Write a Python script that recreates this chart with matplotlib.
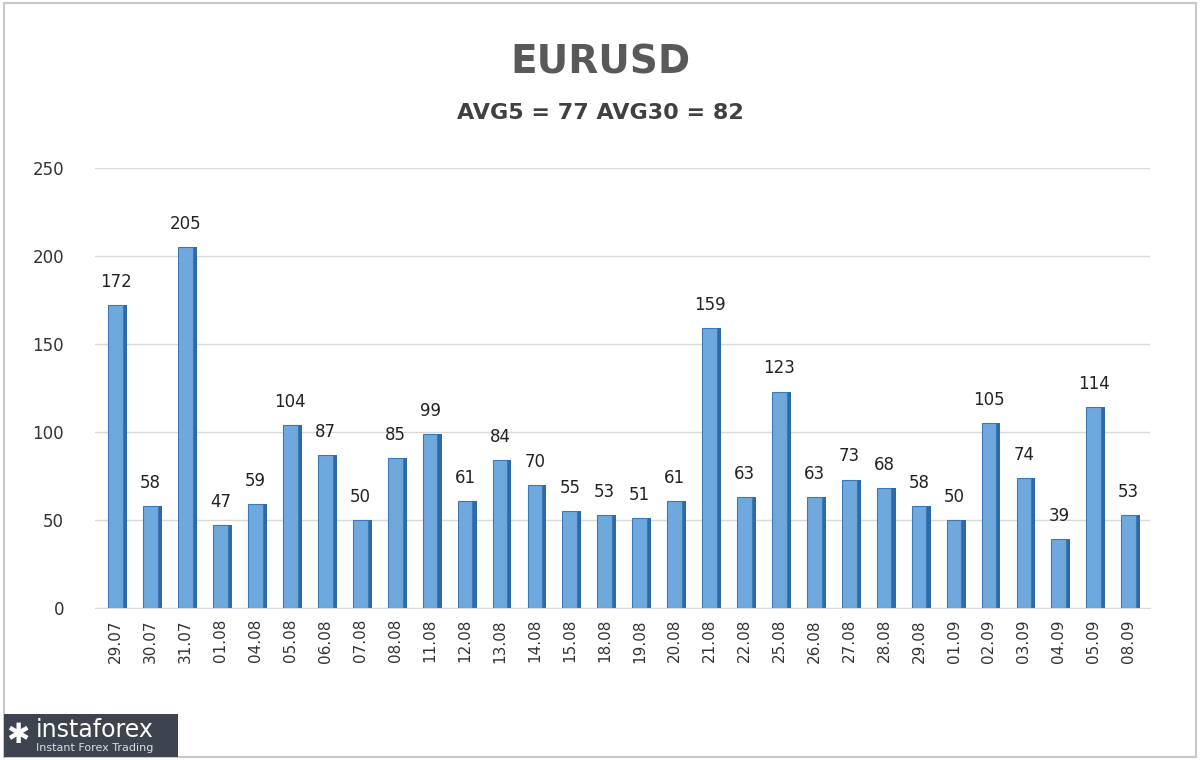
import matplotlib
matplotlib.use("Agg")
import matplotlib.pyplot as plt
from matplotlib.patches import Rectangle, FancyBboxPatch

dates = ["29.07", "30.07", "31.07", "01.08", "04.08", "05.08", "06.08", "07.08",
         "08.08", "11.08", "12.08", "13.08", "14.08", "15.08", "18.08", "19.08",
         "20.08", "21.08", "22.08", "25.08", "26.08", "27.08", "28.08", "29.08",
         "01.09", "02.09", "03.09", "04.09", "05.09", "08.09"]
values = [172, 58, 205, 47, 59, 104, 87, 50, 85, 99, 61, 84, 70, 55, 53, 51,
          61, 159, 63, 123, 63, 73, 68, 58, 50, 105, 74, 39, 114, 53]
yticks = [0, 50, 100, 150, 200, 250]

fig = plt.figure(figsize=(12, 7.6), dpi=100, facecolor="white")
fig.patches.append(Rectangle((0.003, 0.004), 0.994, 0.992, transform=fig.transFigure,
                             fill=False, edgecolor="#c8c8c8", lw=1.5))

ax = fig.add_axes([0.079, 0.2, 0.879, 0.579])
x = range(len(values))
# side shade for a 3D feel
ax.bar([i + 0.12 for i in x], values, width=0.42, color="#2f6aa8", zorder=2)
ax.bar(x, values, width=0.42, color="#6fa8dc", edgecolor="#3b78b8", lw=0.8, zorder=3)
for i, v in zip(x, values):
    ax.text(i, v + 8, str(v), ha="center", va="bottom", fontsize=12, color="#222222")

ax.set_ylim(0, 250)
ax.set_xlim(-0.6, len(values) - 0.4)
ax.set_yticks(yticks)
ax.set_xticks(list(x))
ax.set_xticklabels(dates, rotation=90, fontsize=11, color="#333333")
ax.tick_params(axis="y", labelsize=12, colors="#333333", length=0, pad=22)
ax.tick_params(axis="x", length=0, pad=8)
ax.grid(axis="y", color="#d9d9d9", lw=1, zorder=0)
ax.set_axisbelow(True)
for s in ["top", "right", "left"]:
    ax.spines[s].set_visible(False)
ax.spines["bottom"].set_color("#d9d9d9")

fig.text(0.5, 0.918, "EURUSD", ha="center", va="center", fontsize=28,
         fontweight="bold", color="#595959")
fig.text(0.5, 0.851, "AVG5 = 77 AVG30 = 82", ha="center", va="center", fontsize=16,
         fontweight="bold", color="#404040")

# logo
fig.patches.append(FancyBboxPatch((0.003, 0.004), 0.145, 0.056, transform=fig.transFigure,
                                  boxstyle="square,pad=0", facecolor="#3d4450", edgecolor="none"))
fig.text(0.03, 0.04, "instaforex", fontsize=17, color="white", va="center")
fig.text(0.03, 0.016, "Instant Forex Trading", fontsize=8, color="#dddddd", va="center")
fig.text(0.015, 0.033, "✱", fontsize=20, color="white", va="center", ha="center")

fig.savefig("out.png", dpi=100, facecolor="white")
